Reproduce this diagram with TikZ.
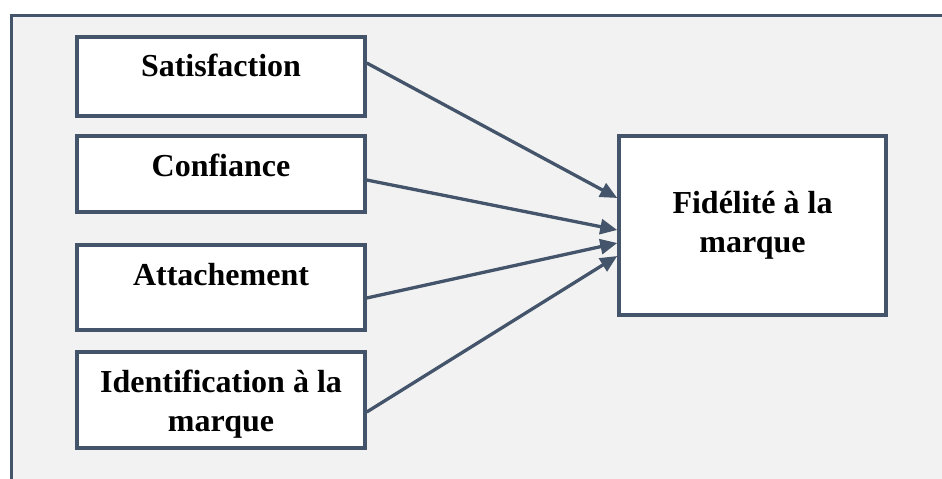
\documentclass[tikz,border=0pt]{standalone}
\usepackage{fontspec}
\setmainfont{Liberation Serif}
\usetikzlibrary{arrows.meta}
\definecolor{slate}{HTML}{44546A}
\definecolor{panel}{HTML}{F2F2F2}
\begin{document}
\begin{tikzpicture}[x=1pt, y=1pt,
  factor/.style = {draw=slate, line width=3.5pt, fill=white, inner sep=0pt, align=center,
    font=\bfseries\fontsize{32}{39}\selectfont},
  link/.style = {draw=slate, line width=3.3pt, -{Triangle[length=17pt,width=15pt]}}]
\useasboundingbox (0,0) rectangle (942,479);
\fill[panel] (11,-10) rectangle (960,463);
\draw[slate, line width=3pt] (11,-10) -- (11,463) -- (960,463);
\node[factor, minimum width=288pt, text height=40pt, text depth=39pt] (sat) at (221,402.5) {Satisfaction};
\node[factor, minimum width=288pt, text height=41pt, text depth=35pt] (conf) at (221,305) {Confiance};
\node[factor, minimum width=288pt, text height=41pt, text depth=44pt] (att) at (221,191.5) {Attachement};
\node[factor, minimum width=288pt, text height=80pt, text depth=16pt] (ident) at (221,79) {Identification à la\\marque};
\node[factor, minimum width=267pt, text height=117pt, text depth=62pt] (fid) at (752.5,253.5) {Fidélité à la\\marque};
\draw[link] ([yshift=13.5pt]sat.east) -- ([yshift=27.5pt]fid.west);
\draw[link] ([yshift=-6pt]conf.east) -- ([yshift=-4.5pt]fid.west);
\draw[link] ([yshift=-10.5pt]att.east) -- ([yshift=-17.5pt]fid.west);
\draw[link] ([yshift=-12pt]ident.east) -- ([yshift=-30.5pt]fid.west);
\end{tikzpicture}
\end{document}
